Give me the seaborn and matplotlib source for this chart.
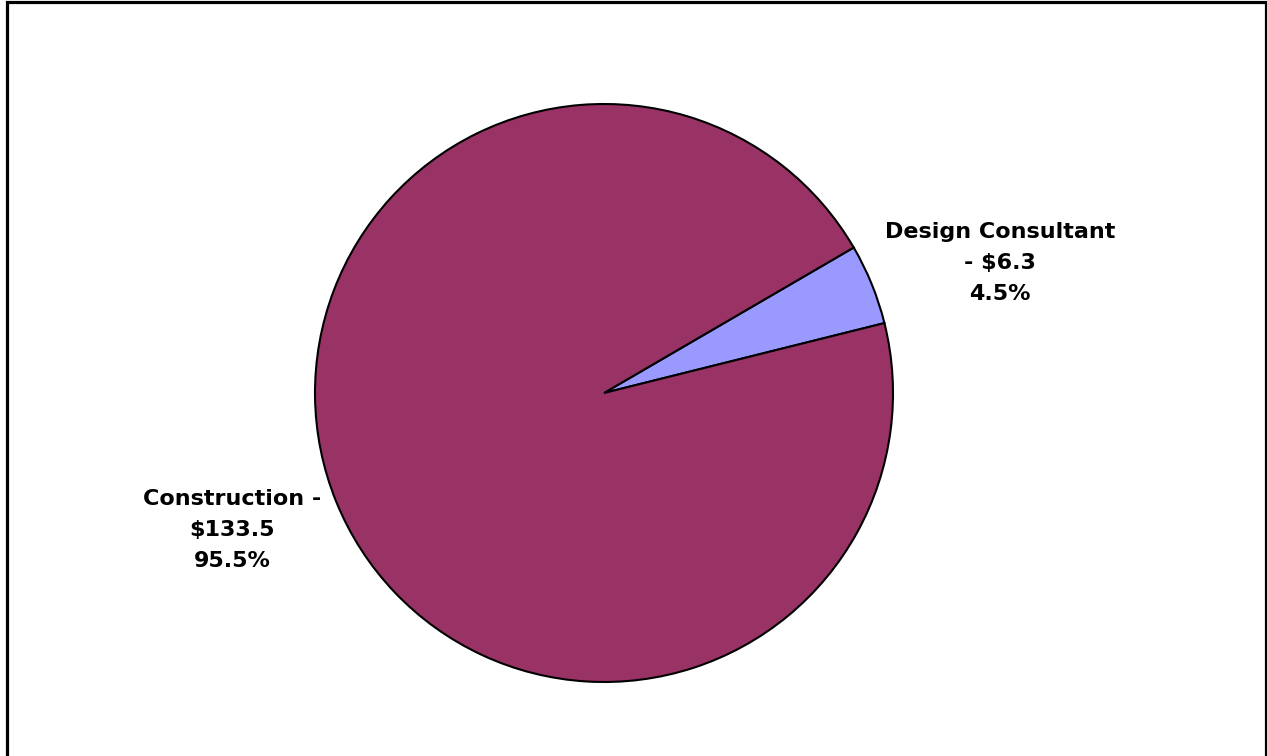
import matplotlib
matplotlib.use("Agg")
import matplotlib.pyplot as plt
import seaborn as sns
from matplotlib.patches import Rectangle

# Cost breakdown ($ millions)
categories = ["Design Consultant", "Construction"]
values = [6.3, 133.5]
colors = ["#9999FF", "#993366"]

sns.set_theme(style="white")
plt.rcParams["font.family"] = ["DejaVu Sans"]

W, H = 1267, 756
fig = plt.figure(figsize=(W / 100, H / 100), dpi=100)
fig.patch.set_facecolor("white")
ax = fig.add_axes([0, 0, 1, 1])

cx, cy, r = 604, H - 393, 289
ax.pie(values, colors=colors, startangle=14, counterclock=True,
       center=(cx, cy), radius=r, frame=True,
       wedgeprops=dict(edgecolor="black", linewidth=1.5))
ax.set_xlim(0, W)
ax.set_ylim(0, H)
ax.set_aspect("equal")
ax.axis("off")

total = sum(values)
pct = [v / total * 100 for v in values]

label_pos = [(1000, H - 263), (232, H - 530)]
texts = [
    f"{categories[0]}\n- ${values[0]:.1f}\n{pct[0]:.1f}%",
    f"{categories[1]} -\n${values[1]:.1f}\n{pct[1]:.1f}%",
]
for (x, y), t in zip(label_pos, texts):
    ax.text(x, y, t, ha="center", va="center", fontsize=16,
            fontweight="bold", color="black", linespacing=1.68)

# Outer chart frame
fig.add_artist(Rectangle((7.0 / W, -0.01), (1265.5 - 7.0) / W, 1.0 - 2.0 / H + 0.01,
                         transform=fig.transFigure, fill=False,
                         edgecolor="black", linewidth=2.3))

fig.savefig("out.png", dpi=100, facecolor="white")
